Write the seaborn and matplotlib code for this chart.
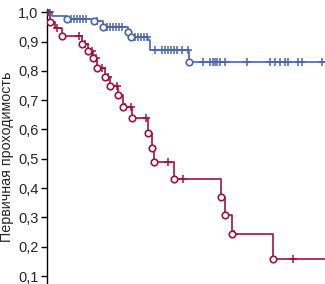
import numpy as np
import pandas as pd
import matplotlib
matplotlib.use("Agg")
import matplotlib.pyplot as plt
import seaborn as sns

# Group 1 (blue): event times and survival after each event
blue_event_t = [5, 20, 47, 56, 81, 84, 101, 103, 142]
blue_event_s = [0.987, 0.976, 0.970, 0.950, 0.932, 0.915, 0.905, 0.870, 0.830]
blue_circle_t = [20, 47, 56, 81, 84, 142]
blue_cens_t = [2, 3, 24, 27, 30, 33, 36, 39, 50, 60, 63, 66, 69, 72, 75,
               88, 91, 94, 97, 100, 108, 115, 118, 121, 124, 127, 130, 135,
               141, 156, 163, 166, 168, 170, 173, 178, 200, 223, 228, 233,
               238, 241, 251, 255, 275]

# Group 2 (red)
red_event_t = [3, 8, 15, 35, 41, 46, 50, 58, 63, 71, 76, 85, 101, 105, 107,
               127, 174, 178, 185, 226]
red_event_s = [0.966, 0.945, 0.918, 0.893, 0.868, 0.845, 0.810, 0.778, 0.749,
               0.716, 0.678, 0.638, 0.587, 0.536, 0.489, 0.432, 0.371, 0.307,
               0.243, 0.158]
red_circle_t = [3, 15, 35, 41, 46, 50, 58, 63, 71, 76, 85, 101, 105, 107,
                127, 174, 178, 185, 226]
red_cens_t = [1, 10, 32, 38, 45, 49, 55, 61, 70, 78, 84, 99, 121, 136, 187, 246]

t_end = 278
y_ticks = [0.1, 0.2, 0.3, 0.4, 0.5, 0.6, 0.7, 0.8, 0.9, 1.0]
y_tick_labels = ["0,1", "0,2", "0,3", "0,4", "0,5", "0,6", "0,7", "0,8", "0,9", "1,0"]
y_label = "Первичная проходимость"

BLUE = "#4a66a8"
RED = "#9c1440"

sns.set_style("white")
plt.rcParams['font.family'] = ['Liberation Sans', 'DejaVu Sans']

fig = plt.figure(figsize=(3.25, 2.84), dpi=100)
ax = fig.add_axes([47 / 325, 0, 278 / 325, 275 / 284])


def curve(ev_t, ev_s):
    return pd.DataFrame({'t': [0] + ev_t + [t_end],
                         's': [1.0] + ev_s + [ev_s[-1]]})


def surv_at(ev_t, ev_s, times):
    idx = np.searchsorted(np.array(ev_t), np.array(times), side='right')
    s = np.concatenate([[1.0], np.array(ev_s)])
    return s[idx]


for ev_t, ev_s, circ_t, cens_t, col in [
        (blue_event_t, blue_event_s, blue_circle_t, blue_cens_t, BLUE),
        (red_event_t, red_event_s, red_circle_t, red_cens_t, RED)]:
    df = curve(ev_t, ev_s)
    sns.lineplot(data=df, x='t', y='s', drawstyle='steps-post', color=col,
                 lw=1.2, ax=ax, zorder=2)
    cens = pd.DataFrame({'t': cens_t, 's': surv_at(ev_t, ev_s, cens_t)})
    sns.scatterplot(data=cens, x='t', y='s', marker='+', s=40, color=col,
                    linewidth=1.1, ax=ax, zorder=3)
    circ = pd.DataFrame({'t': circ_t, 's': surv_at(ev_t, ev_s, circ_t)})
    sns.scatterplot(data=circ, x='t', y='s', marker='o', s=22,
                    facecolor='white', edgecolor=col, linewidth=1.2,
                    ax=ax, zorder=4)

ax.set_xlim(0, t_end)
ax.set_ylim(0.073, 1.011)
ax.set_xticks([])
ax.set_xlabel('')
ax.set_yticks(y_ticks)
ax.set_yticklabels(y_tick_labels)
ax.tick_params(axis='y', left=True, direction='out', length=4, width=1,
               labelsize=10.5, pad=2, color='black')
for side in ['top', 'right', 'bottom']:
    ax.spines[side].set_visible(False)
ax.spines['left'].set_color('black')
ax.spines['left'].set_linewidth(1)
ax.set_ylabel(y_label, fontsize=10.3)
ax.yaxis.set_label_coords(-0.119, 0.462)

fig.savefig("out.png", dpi=100)
